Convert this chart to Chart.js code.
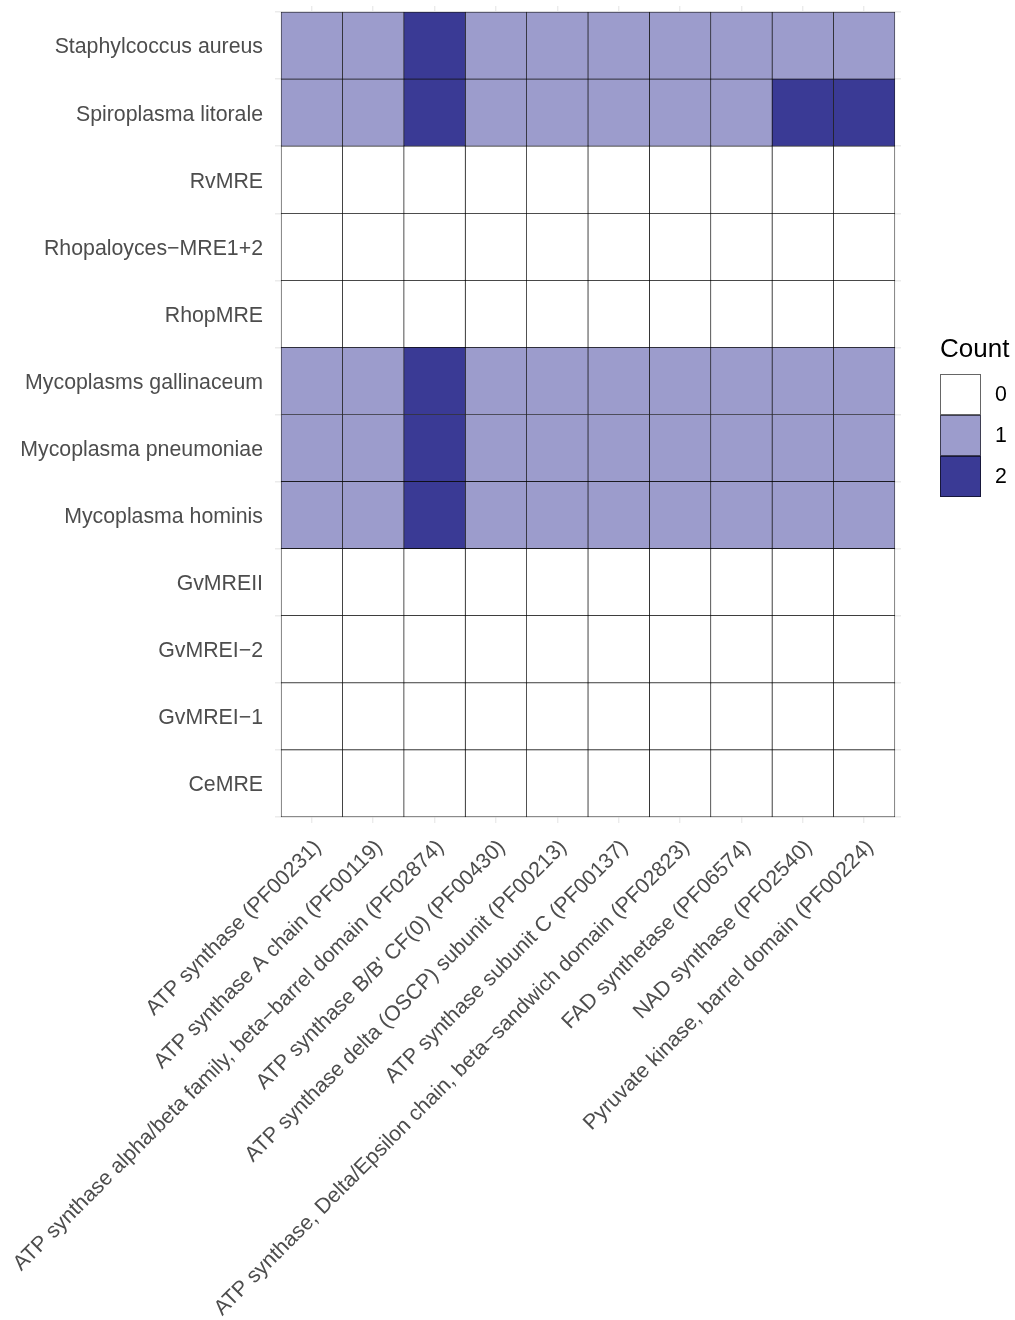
<!DOCTYPE html>
<html>
<head>
<meta charset="utf-8">
<script src="https://cdn.jsdelivr.net/npm/chart.js@4.4.1/dist/chart.umd.min.js"></script>
<style>
  html, body { margin: 0; padding: 0; background: #ffffff; }
  #wrap { width: 1015px; height: 1320px; position: relative; }
</style>
</head>
<body>
<div id="wrap"><canvas id="heat" width="1015" height="1320"></canvas></div>
<script>
// Protein domains (columns)
const domains = [
  "ATP synthase (PF00231)",
  "ATP synthase A chain (PF00119)",
  "ATP synthase alpha/beta family, beta\u2212barrel domain (PF02874)",
  "ATP synthase B/B' CF(0) (PF00430)",
  "ATP synthase delta (OSCP) subunit (PF00213)",
  "ATP synthase subunit C (PF00137)",
  "ATP synthase, Delta/Epsilon chain, beta\u2212sandwich domain (PF02823)",
  "FAD synthetase (PF06574)",
  "NAD synthase (PF02540)",
  "Pyruvate kinase, barrel domain (PF00224)"
];

// Organisms (rows, top to bottom)
const organisms = [
  "Staphylcoccus aureus",
  "Spiroplasma litorale",
  "RvMRE",
  "Rhopaloyces\u2212MRE1+2",
  "RhopMRE",
  "Mycoplasms gallinaceum",
  "Mycoplasma pneumoniae",
  "Mycoplasma hominis",
  "GvMREII",
  "GvMREI\u22122",
  "GvMREI\u22121",
  "CeMRE"
];

// Domain counts per organism, in the column order above
const staphylococcusAureus   = [1, 1, 2, 1, 1, 1, 1, 1, 1, 1];
const spiroplasmaLitorale    = [1, 1, 2, 1, 1, 1, 1, 1, 2, 2];
const rvMRE                  = [0, 0, 0, 0, 0, 0, 0, 0, 0, 0];
const rhopaloycesMRE12       = [0, 0, 0, 0, 0, 0, 0, 0, 0, 0];
const rhopMRE                = [0, 0, 0, 0, 0, 0, 0, 0, 0, 0];
const mycoplasmsGallinaceum  = [1, 1, 2, 1, 1, 1, 1, 1, 1, 1];
const mycoplasmaPneumoniae   = [1, 1, 2, 1, 1, 1, 1, 1, 1, 1];
const mycoplasmaHominis      = [1, 1, 2, 1, 1, 1, 1, 1, 1, 1];
const gvMREII                = [0, 0, 0, 0, 0, 0, 0, 0, 0, 0];
const gvMREI2                = [0, 0, 0, 0, 0, 0, 0, 0, 0, 0];
const gvMREI1                = [0, 0, 0, 0, 0, 0, 0, 0, 0, 0];
const ceMRE                  = [0, 0, 0, 0, 0, 0, 0, 0, 0, 0];

const counts = [
  staphylococcusAureus, spiroplasmaLitorale, rvMRE, rhopaloycesMRE12, rhopMRE,
  mycoplasmsGallinaceum, mycoplasmaPneumoniae, mycoplasmaHominis,
  gvMREII, gvMREI2, gvMREI1, ceMRE
];

// Legend levels and fill colours
const countLevels = [0, 1, 2];
const countColors = ["#ffffff", "#9c9ccc", "#3a3a95"];

const FONT = "'Liberation Sans', Arial, Helvetica, sans-serif";
const AXIS_TEXT = "#4d4d4d";
const GRID = "#ebebeb";
const TEXT_SIZE = 21.3;

// One floating-bar dataset per domain column; each bar is one tile
const datasets = domains.map((name, j) => ({
  label: name,
  data: organisms.map((org, i) => ({ y: i, x: [j, j + 1] })),
  backgroundColor: organisms.map((org, i) => countColors[counts[i][j]]),
  borderColor: "rgba(0,0,0,0.9)",
  borderWidth: 0.7,
  borderSkipped: false,
  grouped: false,
  barPercentage: 1,
  categoryPercentage: 1
}));

// Legend for the fill scale, drawn to the right of the panel
const countLegend = {
  id: "countLegend",
  afterDraw(chart) {
    const ctx = chart.ctx;
    const left = 940, top = 374, key = 41;
    ctx.save();
    ctx.fillStyle = "#000000";
    ctx.font = "26px " + FONT;
    ctx.textAlign = "left";
    ctx.textBaseline = "alphabetic";
    ctx.fillText("Count", 940, 357);
    countLevels.forEach((lvl, k) => {
      const y = top + k * key;
      ctx.fillStyle = countColors[k];
      ctx.fillRect(left, y, key, key);
      ctx.strokeStyle = "rgba(0,0,0,0.6)";
      ctx.lineWidth = 1;
      ctx.strokeRect(left + 0.5, y + 0.5, key - 1, key - 1);
      ctx.fillStyle = "#000000";
      ctx.font = TEXT_SIZE + "px " + FONT;
      ctx.textBaseline = "middle";
      ctx.fillText(String(lvl), 995, y + key / 2 + 1);
    });
    ctx.restore();
  }
};

new Chart(document.getElementById("heat"), {
  type: "bar",
  data: { datasets },
  options: {
    indexAxis: "y",
    responsive: false,
    animation: false,
    events: [],
    layout: { padding: { top: 6, right: 114, left: 0, bottom: 0 } },
    plugins: { legend: { display: false }, tooltip: { enabled: false } },
    scales: {
      x: {
        type: "linear",
        position: "bottom",
        min: -0.1,
        max: 10.1,
        offset: false,
        border: { display: false },
        grid: { color: GRID, lineWidth: 1.4, drawTicks: false },
        afterBuildTicks: (scale) => {
          scale.ticks = domains.map((d, j) => ({ value: j + 0.5 }));
        },
        afterFit: (scale) => {
          scale.height = 497;
          scale.paddingLeft = 0;
          scale.paddingRight = 0;
        },
        ticks: {
          autoSkip: false,
          minRotation: 45,
          maxRotation: 45,
          padding: 12,
          labelOffset: 6,
          color: AXIS_TEXT,
          font: { family: FONT, size: TEXT_SIZE },
          callback: (v) => domains[Math.round(v - 0.5)]
        }
      },
      y: {
        type: "linear",
        reverse: true,
        min: -0.59,
        max: 11.59,
        offset: false,
        border: { display: false },
        grid: { color: GRID, lineWidth: 1.4, drawTicks: false },
        afterBuildTicks: (scale) => {
          scale.ticks = organisms.map((o, i) => ({ value: i }));
        },
        afterFit: (scale) => {
          scale.width = 275;
          scale.paddingTop = 0;
          scale.paddingBottom = 0;
        },
        ticks: {
          autoSkip: false,
          padding: 12,
          labelOffset: 2,
          color: AXIS_TEXT,
          font: { family: FONT, size: TEXT_SIZE },
          callback: (v) => organisms[Math.round(v)]
        }
      }
    }
  },
  plugins: [countLegend]
});
</script>
</body>
</html>
